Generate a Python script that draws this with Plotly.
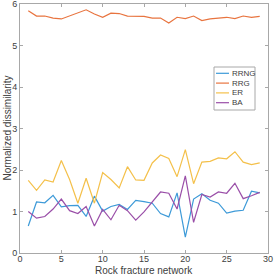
import plotly.graph_objects as go

x = list(range(1, 30))
rrng = [0.65, 1.23, 1.21, 1.39, 1.11, 1.14, 1.15, 0.88, 1.37, 1.01, 1.12, 1.17, 1.05, 1.27, 1.24,
        1.20, 0.95, 0.87, 1.45, 0.38, 1.30, 1.43, 1.27, 1.20, 0.96, 1.01, 1.03, 1.49, 1.45]
rrg = [5.84, 5.71, 5.71, 5.66, 5.64, 5.71, 5.78, 5.86, 5.76, 5.68, 5.78, 5.77, 5.71, 5.71, 5.70,
       5.66, 5.66, 5.54, 5.68, 5.65, 5.71, 5.60, 5.64, 5.66, 5.68, 5.65, 5.71, 5.68, 5.70]
er = [1.75, 1.51, 1.76, 1.71, 2.23, 1.77, 1.20, 1.80, 1.20, 1.94, 1.77, 1.57, 2.08, 1.76, 1.75,
      2.17, 2.36, 2.28, 1.84, 2.49, 1.67, 2.19, 2.21, 2.29, 2.27, 2.44, 2.19, 2.13, 2.17]
ba = [1.00, 0.84, 0.88, 1.06, 1.30, 1.02, 0.95, 1.12, 0.65, 1.05, 0.80, 1.15, 1.02, 0.79, 0.99,
      1.23, 1.47, 1.44, 1.06, 1.86, 0.74, 1.41, 1.35, 1.47, 1.44, 1.68, 1.31, 1.38, 1.46]

names = ["RRNG", "RRG", "ER", "BA"]
colors = ["#3d9ad8", "#e8743f", "#f4c04a", "#9a4fa8"]
values = [rrng, rrg, er, ba]

W, H = 274, 275
ML, MR, MT, MB = 20, 6, 4, 22
PW, PH = W - ML - MR, H - MT - MB

def px2paper(px, py):
    return (px - ML) / PW, (H - MB - py) / PH

fig = go.Figure()
for name, vals, col in zip(names, values, colors):
    fig.add_trace(go.Scatter(x=x, y=vals, mode="lines", name=name,
                             line=dict(color=col, width=1.2), showlegend=False))

axis_common = dict(showgrid=False, zeroline=False, showline=True, mirror="ticks",
                   linecolor="#a8a8a8", linewidth=1, ticks="inside", ticklen=3,
                   tickcolor="#a8a8a8", tickfont=dict(size=9, color="#404040"),
                   ticklabeloverflow="allow", automargin=False)

shapes = []
annotations = []
# compact legend box (MATLAB style)
bx0, by0 = px2paper(214, 67)
bx1, by1 = px2paper(255, 110)
shapes.append(dict(type="rect", xref="paper", yref="paper", x0=bx0, x1=bx1, y0=by1, y1=by0,
                   line=dict(color="#a8a8a8", width=1), fillcolor="white", layer="above"))
for i, (name, col) in enumerate(zip(names, colors)):
    rowy = 73.3 + i * 9.8
    lx0, ly = px2paper(216, rowy)
    lx1, _ = px2paper(229, rowy)
    tx, _ = px2paper(229.5, rowy)
    shapes.append(dict(type="line", xref="paper", yref="paper", x0=lx0, x1=lx1, y0=ly, y1=ly,
                       line=dict(color=col, width=1.2), layer="above"))
    annotations.append(dict(text=name, xref="paper", yref="paper", x=tx, y=ly,
                            xanchor="left", yanchor="middle", showarrow=False,
                            font=dict(size=8, color="#404040")))

tx_, ty_ = px2paper(148, 270.5)
annotations.append(dict(text="Rock fracture network", xref="paper", yref="paper", x=0.5,
                        y=ty_, xanchor="center", yanchor="middle",
                        showarrow=False, font=dict(size=10, color="#404040")))
yx_, yy_ = px2paper(7, 128)
annotations.append(dict(text="Normalized dissimilarity", xref="paper", yref="paper", x=yx_,
                        y=0.5, xanchor="center", yanchor="middle", textangle=-90,
                        showarrow=False, font=dict(size=10, color="#404040")))

fig.update_layout(
    width=W, height=H,
    margin=dict(l=ML, r=MR, t=MT, b=MB),
    paper_bgcolor="white", plot_bgcolor="white",
    font=dict(family="Liberation Sans, Arial, sans-serif", color="#404040"),
    xaxis=dict(range=[0, 30], tickvals=[0, 5, 10, 15, 20, 25, 30], ticklabelstandoff=-3,
               **axis_common),
    yaxis=dict(range=[0, 6], tickvals=[0, 1, 2, 3, 4, 5, 6], **axis_common),
    shapes=shapes, annotations=annotations,
    showlegend=False,
)
fig.write_html("out.html", config={"displayModeBar": False},
               post_script="document.body.style.margin='0';")
